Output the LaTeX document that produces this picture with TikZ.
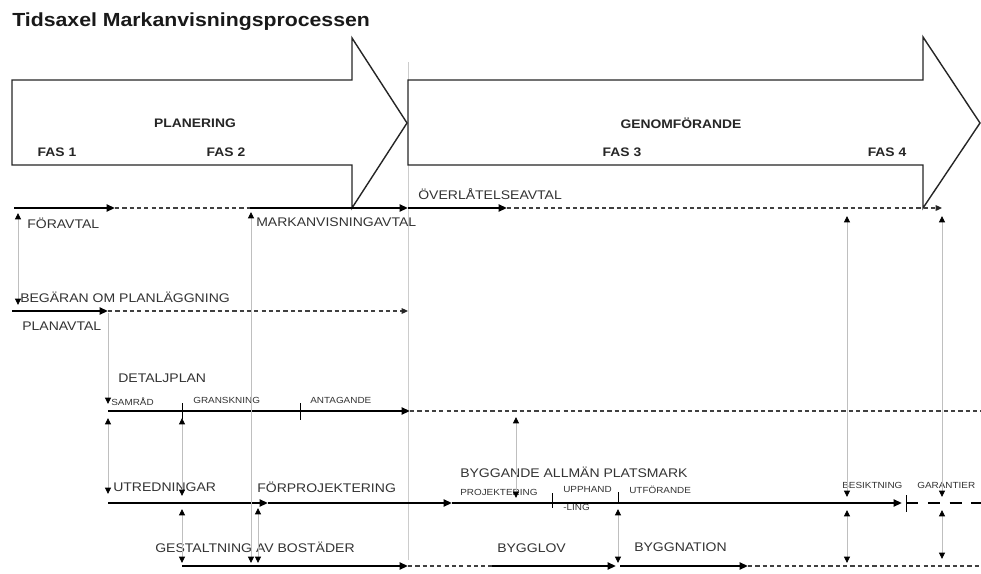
\documentclass[tikz,border=0pt]{standalone}
\usepackage{fontspec}
\setmainfont{Liberation Sans}[FakeStretch=1.12]
\usetikzlibrary{arrows.meta}

\tikzset{
  phase/.style={draw=black!85, line width=1pt, fill=white, line join=miter},
  span/.style={line width=1.9pt, -{Triangle[length=6pt,width=5pt]}},
  later/.style={draw=black!75, line width=0.9pt, dash pattern=on 3pt off 2.2pt},
  laterarr/.style={later, -{Triangle[length=4.5pt,width=4pt,color=black!85]}},
  wait/.style={line width=1.9pt, dash pattern=on 8.5pt off 7pt},
  link/.style={draw=black!25, line width=0.6pt,
    {Triangle[length=4.5pt,width=4.2pt,color=black]}-{Triangle[length=4.5pt,width=4.2pt,color=black]}},
  linkdown/.style={draw=black!25, line width=0.6pt, -{Triangle[length=4.5pt,width=4.2pt,color=black]}},
  divider/.style={draw=black!20, line width=0.6pt},
  tickmark/.style={line width=0.7pt},
  lbl/.style={inner sep=0pt, anchor=west, text=black!80, font=\fontsize{8.9}{10}\selectfont},
  sublbl/.style={lbl, font=\fontsize{6.3}{7}\selectfont},
  fas/.style={inner sep=0pt, text=black!85, font=\fontsize{8.8}{10}\selectfont\bfseries},
}

\begin{document}
\begin{tikzpicture}[x=0.025cm, y=-0.025cm]
\useasboundingbox (0,0) rectangle (981,573);

% title
\node[inner sep=0pt, anchor=west, text=black!90, font=\fontsize{13.5}{15}\selectfont\bfseries] (title) at (12,22) {Tidsaxel Markanvisningsprocessen};

% phase separator
\coordinate (sepa) at (408,62);
\coordinate (sepb) at (408,560);
\draw[divider] (sepa) -- (sepb);

% big phase arrows
\draw[phase] (12,80) -- (352,80) -- (352,38) -- (407,123) -- (352,208) -- (352,165) -- (12,165) -- cycle;
\draw[phase] (408,80) -- (923,80) -- (923,37) -- (980,123) -- (923,208) -- (923,165) -- (408,165) -- cycle;

\node[fas] (plan) at (195,123) {PLANERING};
\node[fas] (fas1) at (57,152) {FAS 1};
\node[fas] (fas2) at (226,152) {FAS 2};
\node[fas] (genom) at (681,123) {GENOMFÖRANDE};
\node[fas] (fas3) at (622,152) {FAS 3};
\node[fas] (fas4) at (887,152) {FAS 4};

% row 1: avtal
\coordinate (fa) at (14,208);
\coordinate (fb) at (115,208);
\coordinate (ma) at (250,208);
\coordinate (mb) at (408,208);
\coordinate (ob) at (507,208);
\coordinate (oc) at (942,208);
\draw[span] (fa) -- (fb);
\draw[later] (fb) -- (ma);
\draw[span] (ma) -- (mb);
\draw[span] (mb) -- (ob);
\draw[laterarr] (ob) -- (oc);
\node[lbl] (foravtal) at (27,223) {FÖRAVTAL};
\node[lbl] (markavtal) at (256,222) {MARKANVISNINGAVTAL};
\node[lbl] (overavtal) at (418,194) {ÖVERLÅTELSEAVTAL};

% row 2: planavtal
\coordinate (pa) at (12,311);
\coordinate (pb) at (108,311);
\coordinate (pc) at (408,311);
\draw[span] (pa) -- (pb);
\draw[laterarr] (pb) -- (pc);
\node[lbl] (begaran) at (20,297) {BEGÄRAN OM PLANLÄGGNING};
\node[lbl] (planavtal) at (22,326) {PLANAVTAL};

% row 3: detaljplan
\coordinate (da) at (108,411);
\coordinate (db) at (410,411);
\coordinate (dc) at (981,411);
\draw[span] (da) -- (db);
\draw[later] (db) -- (dc);
\node[lbl] (detalj) at (118,378) {DETALJPLAN};
\node[sublbl] (samrad) at (111,402) {SAMRÅD};
\node[sublbl] (gransk) at (193,400) {GRANSKNING};
\node[sublbl] (antag) at (310,400) {ANTAGANDE};
\draw[tickmark] (182,403) -- (182,419);
\draw[tickmark] (300,403) -- (300,420);

% row 4: utredningar / projektering / utforande
\coordinate (ua) at (108,503);
\coordinate (ub) at (268,503);
\coordinate (uc) at (452,503);
\coordinate (ud) at (902,503);
\coordinate (ue) at (906,503);
\coordinate (uf) at (981,503);
\draw[span] (ua) -- (ub);
\draw[span] (ub) -- (uc);
\draw[span] (uc) -- (ud);
\draw[wait] (ue) -- (uf);
\draw[tickmark] (906,495) -- (906,512);
\draw[tickmark] (552,493) -- (552,508);
\draw[tickmark] (618,492) -- (618,503);
\node[lbl] (utred) at (113,487) {UTREDNINGAR};
\node[lbl] (forproj) at (257,487) {FÖRPROJEKTERING};
\node[lbl] (allman) at (460,472) {BYGGANDE ALLMÄN PLATSMARK};
\node[sublbl] (proj) at (460,492) {PROJEKTERING};
\node[sublbl] (upph) at (563,489) {UPPHAND};
\node[sublbl] (ling) at (563,507) {-LING};
\node[sublbl] (utfor) at (629,490) {UTFÖRANDE};
\node[sublbl] (besikt) at (842,485) {BESIKTNING};
\node[sublbl] (garant) at (917,485) {GARANTIER};

% row 5: bostader / bygglov / byggnation
\coordinate (ga) at (182,566);
\coordinate (gb) at (408,566);
\coordinate (gc) at (492,566);
\coordinate (gd) at (616,566);
\coordinate (ge) at (620,566);
\coordinate (gf) at (748,566);
\coordinate (gg) at (981,566);
\draw[span] (ga) -- (gb);
\draw[later] (gb) -- (gc);
\draw[span] (gc) -- (gd);
\draw[span] (ge) -- (gf);
\draw[later] (gf) -- (gg);
\node[lbl] (gestalt) at (155,547) {GESTALTNING AV BOSTÄDER};
\node[lbl] (bygglov) at (497,548) {BYGGLOV};
\node[lbl] (byggnat) at (634,547) {BYGGNATION};

% links between the rows
\coordinate (p2t) at (108,313);
\coordinate (p2b) at (108,404);
\draw[linkdown] (p2t) -- (p2b);
\foreach \n/\x/\ya/\yb in {
  k1/18/213/305, k2/108/418/494, k3/182/418/496, k4/182/509/563,
  k5/251/212/563, k6/258/508/563, k7/516/417/498, k8/618/509/563,
  k9/847/216/497, k10/847/510/563, k11/942/216/497, k12/942/510/559} {
  \coordinate (\n-t) at (\x,\ya);
  \coordinate (\n-b) at (\x,\yb);
  \draw[link] (\n-t) -- (\n-b);
}
\end{tikzpicture}
\end{document}
